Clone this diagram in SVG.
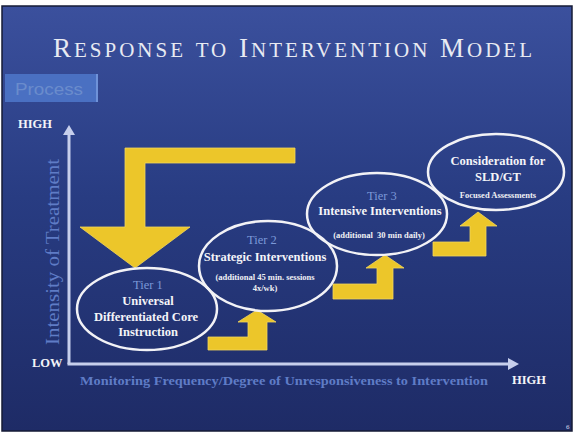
<svg xmlns="http://www.w3.org/2000/svg" width="576" height="433" viewBox="0 0 576 433">
  <defs>
    <linearGradient id="bg" x1="0" y1="0" x2="0" y2="1">
      <stop offset="0" stop-color="#3b509d"/>
      <stop offset="0.45" stop-color="#283c82"/>
      <stop offset="1" stop-color="#1e2b66"/>
    </linearGradient>
    <style>
      .ser { font-family: "Liberation Serif", "Times New Roman", serif; }
      .axis { stroke: #c7cfec; stroke-width: 3; fill: none; }
      .axhead { fill: #c7cfec; }
      .yel { fill: #ecc62a; stroke: #f3d65a; stroke-width: 0.8; }
      .oval { fill: none; stroke: #f2f2f6; stroke-width: 2.5; }
      .tier { font-size: 12.5px; fill: #7b98d8; text-anchor: middle; }
      .main { font-size: 12.5px; font-weight: bold; fill: #f4f4f8; text-anchor: middle; }
      .small { font-size: 8.5px; font-weight: bold; fill: #f0f0f4; text-anchor: middle; }
      .lbl { font-size: 12.5px; font-weight: bold; fill: #f4f4f8; }
      .blue { fill: #5f7cc6; }
    </style>
  </defs>

  <rect x="0" y="0" width="576" height="433" fill="#ffffff"/>
  <rect x="2" y="6" width="570" height="425" fill="url(#bg)" stroke="#161b36" stroke-width="1.5"/>

  <g id="title">
    <text class="ser" x="53" y="57" textLength="479" lengthAdjust="spacing" fill="#e8eaf2" font-size="27"><tspan>R</tspan><tspan font-size="21">ESPONSE</tspan> <tspan font-size="21">TO</tspan> <tspan>I</tspan><tspan font-size="21">NTERVENTION</tspan> <tspan>M</tspan><tspan font-size="21">ODEL</tspan></text>
  </g>

  <g id="process-tab">
    <rect x="5" y="74" width="93" height="28" fill="#4a70c2"/>
    <line x1="97" y1="74" x2="97" y2="102" stroke="#7d9ee0" stroke-width="1.5"/>
    <text x="15" y="95" font-family="Liberation Sans, Arial, sans-serif" font-size="17" fill="#6a8ccc" textLength="68" lengthAdjust="spacingAndGlyphs">Process</text>
  </g>

  <g id="axes">
    <line class="axis" x1="69" y1="364" x2="69" y2="134"/>
    <polygon class="axhead" points="63,135 69,125 75,135"/>
    <line class="axis" x1="67.5" y1="364" x2="510" y2="364"/>
    <polygon class="axhead" points="508,358 519,364 508,370"/>
    <text class="ser lbl" x="18" y="128">HIGH</text>
    <text class="ser lbl" x="32" y="367">LOW</text>
    <text class="ser lbl" x="512" y="384">HIGH</text>
    <text class="ser blue" x="0" y="0" font-size="19" transform="translate(59,345) rotate(-90)" textLength="186" lengthAdjust="spacingAndGlyphs">Intensity of Treatment</text>
    <text class="ser blue" x="80" y="385" font-size="13" font-weight="bold" textLength="408" lengthAdjust="spacingAndGlyphs">Monitoring Frequency/Degree of Unresponsiveness to Intervention</text>
  </g>

  <g id="connectors">
    <polygon class="yel" points="295,148 125,148 125,227 80,227 135,268 190,227 145,227 145,163 295,163"/>
    <polygon class="yel" points="208,337 248,337 248,322 238,322 257,310 276,322 267,322 267,350 208,350"/>
    <polygon class="yel" points="333,284 377,284 377,268 366,268 385,255 404,268 393,268 393,299 333,299"/>
    <polygon class="yel" points="433,242 470,242 470,226 460,226 478,212 497,226 486,226 486,256 433,256"/>
  </g>

  <g id="tier1">
    <ellipse class="oval" cx="147" cy="309" rx="70" ry="41"/>
    <text class="ser tier" x="148" y="289">Tier 1</text>
    <text class="ser main" x="148" y="305">Universal</text>
    <text class="ser main" x="146" y="321">Differentiated Core</text>
    <text class="ser main" x="148" y="336">Instruction</text>
  </g>

  <g id="tier2">
    <ellipse class="oval" cx="268" cy="266" rx="69" ry="45"/>
    <text class="ser tier" x="262" y="244">Tier 2</text>
    <text class="ser main" x="265" y="261">Strategic Interventions</text>
    <text class="ser small" x="265" y="280">(additional 45 min. sessions</text>
    <text class="ser small" x="265" y="291">4x/wk)</text>
  </g>

  <g id="tier3">
    <ellipse class="oval" cx="377" cy="214" rx="70" ry="41"/>
    <text class="ser tier" x="382" y="200">Tier 3</text>
    <text class="ser main" x="380" y="215">Intensive Interventions</text>
    <text class="ser small" x="379" y="238" xml:space="preserve">(additional  30 min daily)</text>
  </g>

  <g id="consideration">
    <ellipse class="oval" cx="496" cy="172" rx="68" ry="38"/>
    <text class="ser main" x="498" y="165">Consideration for</text>
    <text class="ser main" x="498" y="181">SLD/GT</text>
    <text class="ser small" x="498" y="198">Focused Assessments</text>
  </g>

  <text class="ser" x="566" y="429" font-size="7" fill="#d8dcec">6</text>
</svg>
